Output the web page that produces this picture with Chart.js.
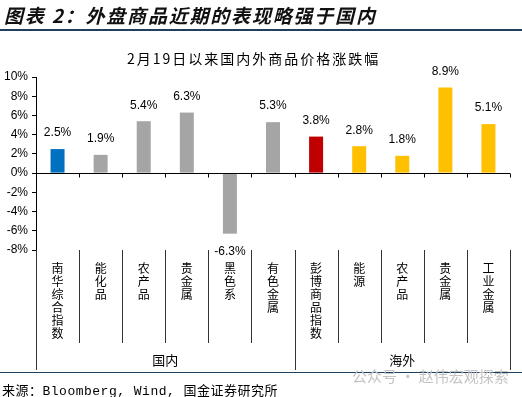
<!DOCTYPE html>
<html>
<head>
<meta charset="utf-8">
<script src="https://cdn.jsdelivr.net/npm/chart.js@4"></script>
<style>
  body { margin: 0; background: #fff; }
  #wrap { position: relative; width: 522px; height: 397px; overflow: hidden; }
  #chart { position: absolute; left: 0; top: 0; }
  .txt { position: absolute; white-space: nowrap; }
  #head { left: 4px; top: 1px; font: italic bold 19px "Noto Sans CJK SC"; letter-spacing: 1.8px; color: #111; }
  #headLine { position: absolute; left: 0; top: 29px; width: 522px; height: 2px; background: #1f3f5f; }
  #title { left: 127px; top: 48px; font: 14px "Noto Sans CJK SC"; letter-spacing: 2px; color: #000; }
  #footLine { position: absolute; left: 0; top: 372px; width: 522px; height: 1px; background: #1f3f5f; }
  #source { left: 2px; top: 380px; font: 13px "Liberation Mono", "Noto Sans CJK SC"; letter-spacing: 0.5px; color: #000; }
  #mark { left: 352px; top: 365px; font: 15px "Noto Sans CJK SC"; color: #c4c4c4; }
</style>
</head>
<body>
<div id="wrap">
  <canvas id="chart" width="522" height="397"></canvas>
  <div class="txt" id="head">图表 2：外盘商品近期的表现略强于国内</div>
  <div id="headLine"></div>
  <div class="txt" id="title">2月19日以来国内外商品价格涨跌幅</div>
  <div id="footLine"></div>
  <div class="txt" id="mark">公众号 · 赵伟宏观探索</div>
  <div class="txt" id="source">来源：Bloomberg, Wind, 国金证券研究所</div>
</div>
<script>
// 品种名称
const categories = ["南华综合指数", "能化品", "农产品", "贵金属", "黑色系", "有色金属",
  "彭博商品指数", "能源", "农产品", "贵金属", "工业金属"];
// 2月19日以来涨跌幅（%）
const changes = [2.5, 1.9, 5.4, 6.3, -6.3, 5.3, 3.8, 2.8, 1.8, 8.9, 5.1];
const barColors = ["#0070C0", "#A5A5A5", "#A5A5A5", "#A5A5A5", "#A5A5A5", "#A5A5A5",
  "#C00000", "#FFC000", "#FFC000", "#FFC000", "#FFC000"];
// 分组
const groupNames = ["国内", "海外"];
const groupSizes = [6, 5];
// 纵轴刻度
const yMin = -8;
const yMax = 10;
const yStep = 2;

const numFont = '12px "Liberation Sans", "Noto Sans CJK SC"';

// 自定义插件：数据标签、零线、分类分隔线和分组名称
const extras = {
  id: "extras",
  afterDatasetsDraw(chart) {
    const ctx = chart.ctx;
    const xs = chart.scales.x;
    const ys = chart.scales.y;
    const area = chart.chartArea;
    const half = (xs.getPixelForValue(1) - xs.getPixelForValue(0)) / 2;
    const zero = Math.round(ys.getPixelForValue(0)) + 0.5;

    ctx.save();
    // 零线与刻度
    ctx.strokeStyle = "#000";
    ctx.lineWidth = 1;
    ctx.beginPath();
    ctx.moveTo(area.left, zero);
    ctx.lineTo(area.right, zero);
    categories.forEach((c, i) => {
      const px = Math.round(xs.getPixelForValue(i) + half) + 0.5;
      ctx.moveTo(px, zero);
      ctx.lineTo(px, zero + 4);
    });
    ctx.stroke();

    // 数据标签
    ctx.fillStyle = "#000";
    ctx.font = numFont;
    ctx.textAlign = "center";
    ctx.textBaseline = "middle";
    chart.getDatasetMeta(0).data.forEach((bar, i) => {
      const v = changes[i];
      const y = v >= 0 ? bar.y - 16 : bar.y + 18;
      ctx.fillText(v.toFixed(1) + "%", bar.x, y);
    });

    // 分类分隔线
    const bounds = [0];
    groupSizes.forEach((s) => bounds.push(bounds[bounds.length - 1] + s));
    ctx.strokeStyle = "#333";
    ctx.beginPath();
    for (let i = 0; i <= categories.length; i++) {
      const px = Math.round(xs.getPixelForValue(i) - half) + 0.5;
      const long = bounds.includes(i);
      ctx.moveTo(px, area.bottom);
      ctx.lineTo(px, long ? area.bottom + 120 : area.bottom + 93);
    }
    ctx.stroke();

    // 分组名称
    ctx.font = '13px "Noto Sans CJK SC"';
    groupNames.forEach((g, k) => {
      const x0 = xs.getPixelForValue(bounds[k]) - half;
      const x1 = xs.getPixelForValue(bounds[k + 1]) - half;
      ctx.fillText(g, (x0 + x1) / 2, area.bottom + 110);
    });
    ctx.restore();
  }
};

new Chart(document.getElementById("chart"), {
  type: "bar",
  data: {
    // 竖排文字：每个字一行
    labels: categories.map((c) => c.split("")),
    datasets: [{
      data: changes,
      backgroundColor: barColors,
      barPercentage: 0.65,
      categoryPercentage: 0.5
    }]
  },
  options: {
    responsive: false,
    animation: false,
    layout: { autoPadding: false, padding: { top: 77, left: 0, right: 12, bottom: 27 } },
    plugins: { legend: { display: false }, tooltip: { enabled: false } },
    scales: {
      x: {
        afterFit: (s) => { s.height = 120; },
        grid: { display: false, drawTicks: false },
        border: { display: false },
        ticks: {
          color: "#000",
          font: { family: "Noto Sans CJK SC", size: 12, lineHeight: 13 / 12 },
          padding: 12,
          maxRotation: 0,
          autoSkip: false
        }
      },
      y: {
        min: yMin,
        max: yMax,
        afterFit: (s) => { s.width = 36; },
        grid: { drawOnChartArea: false, tickLength: 4, color: "#000" },
        border: { color: "#000" },
        ticks: {
          stepSize: yStep,
          padding: 4,
          color: "#000",
          font: { family: "Liberation Sans", size: 12 },
          callback: (v) => v + "%"
        }
      }
    }
  },
  plugins: [extras]
});
</script>
</body>
</html>
